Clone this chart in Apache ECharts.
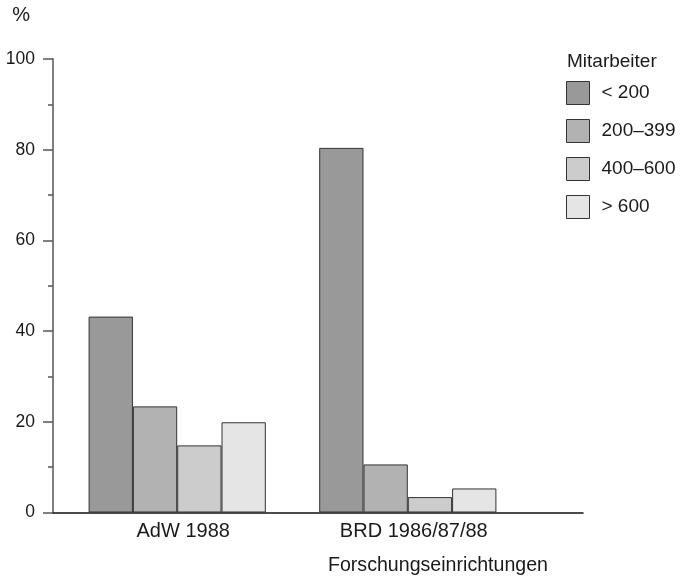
<!DOCTYPE html>
<html>
<head>
<meta charset="utf-8">
<script src="https://cdn.jsdelivr.net/npm/echarts@6/dist/echarts.min.js"></script>
<style>html,body{margin:0;padding:0;background:#fff;}#c{width:682px;height:576px;}</style>
</head>
<body>
<div id="c"></div>
<script>
const categories = ['AdW 1988', 'BRD 1986/87/88'];
const seriesNames = ['< 200', '200–399', '400–600', '> 600'];
const lt200 = [43.2, 80.4];
const s200to399 = [23.4, 10.6];
const s400to600 = [14.8, 3.4];
const gt600 = [19.9, 5.3];
const yTicks = [0, 20, 40, 60, 80, 100];

const seriesValues = [lt200, s200to399, s400to600, gt600];
const colors = ['#999999', '#b2b2b2', '#cccccc', '#e5e5e5'];
const FONT = '"Liberation Sans", Arial, Helvetica, sans-serif';

const chart = echarts.init(document.getElementById('c'), null, {renderer: 'canvas'});
chart.setOption({
  animation: false,
  backgroundColor: '#fff',
  textStyle: {fontFamily: FONT, color: '#1a1a1a'},
  title: {
    text: 'Mitarbeiter', left: 567, top: 52, padding: 0,
    textStyle: {fontFamily: FONT, fontSize: 19, fontWeight: 'normal', color: '#1a1a1a'}
  },
  legend: {
    orient: 'vertical', left: 566, top: 81, padding: 0,
    itemWidth: 23, itemHeight: 23, itemGap: 14,
    icon: 'rect',
    itemStyle: {borderColor: '#333', borderWidth: 1},
    textStyle: {fontFamily: FONT, fontSize: 19, color: '#1a1a1a', padding: [0, 0, 0, 7]},
    data: seriesNames
  },
  grid: [
    {left: 61.9, right: 158.9, top: 59, bottom: 63.5},
    {left: 53, right: 99, top: 59, bottom: 63.5}
  ],
  xAxis: [
    {
      type: 'category', gridIndex: 0, data: categories,
      axisLine: {show: false}, axisTick: {show: false},
      axisLabel: {fontFamily: FONT, fontSize: 20, color: '#1a1a1a', margin: 9, padding: [0, 0, 0, 12]}
    },
    {
      type: 'value', gridIndex: 1, min: 0, max: 1,
      axisLine: {show: true, lineStyle: {color: '#111', width: 1.5}},
      axisTick: {show: false}, axisLabel: {show: false}, splitLine: {show: false},
      name: 'Forschungseinrichtungen', nameLocation: 'end', nameGap: -35,
      nameTextStyle: {fontFamily: FONT, fontSize: 19.6, color: '#1a1a1a', align: 'right', verticalAlign: 'top', padding: [43, 0, 0, 0]}
    }
  ],
  yAxis: [
    {
      type: 'value', gridIndex: 0, min: 0, max: 100, interval: 20,
      show: false, splitLine: {show: false}
    },
    {
      type: 'value', gridIndex: 1, min: 0, max: 100, interval: 20,
      axisLine: {show: true, lineStyle: {color: '#808080', width: 2}},
      axisTick: {show: true, length: 10, lineStyle: {color: '#555', width: 1.5}},
      minorTick: {show: true, splitNumber: 2, length: 5, lineStyle: {color: '#555', width: 1.5}},
      axisLabel: {fontFamily: FONT, fontSize: 17.5, color: '#1a1a1a', margin: 18,
        formatter: v => yTicks.includes(v) ? String(v) : ''},
      splitLine: {show: false},
      name: '%', nameLocation: 'end', nameGap: 44,
      nameTextStyle: {fontFamily: FONT, fontSize: 20, color: '#1a1a1a', align: 'right', verticalAlign: 'middle', padding: [0, 23, 0, 0]}
    }
  ],
  series: seriesNames.map((name, i) => ({
    name: name,
    type: 'bar',
    xAxisIndex: 0, yAxisIndex: 0,
    data: seriesValues[i],
    barWidth: 44.3,
    barGap: '0%',
    itemStyle: {color: colors[i], borderColor: '#333', borderWidth: 1}
  }))
});
</script>
</body>
</html>
